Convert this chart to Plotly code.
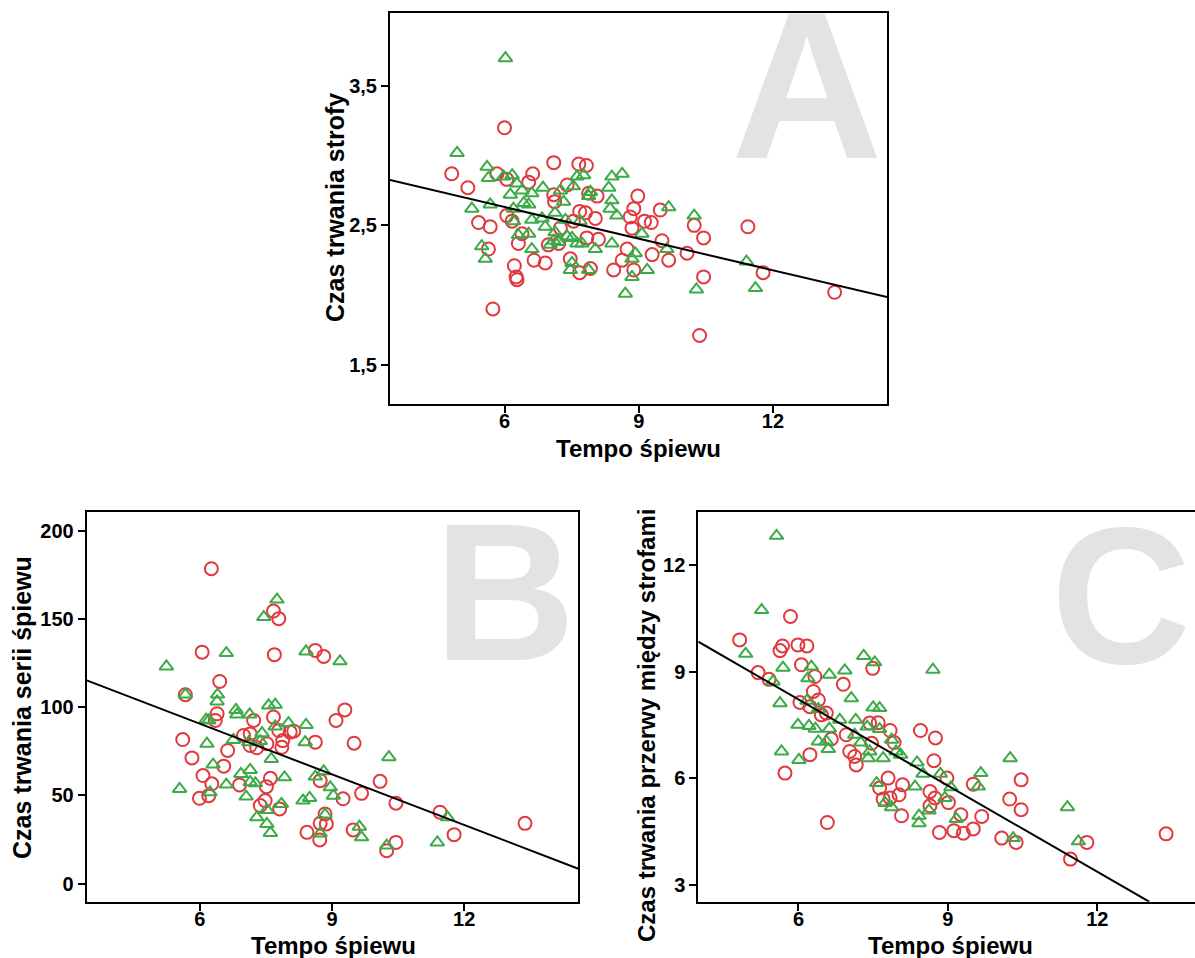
import plotly.graph_objects as go

W, H = 1195, 958

# ---------------- Panel A: Czas trwania strofy ----------------
a_red_x = [6.00, 4.82, 5.18, 5.83, 6.05, 6.63, 6.54, 7.10, 7.66, 7.83,
           7.40, 7.10, 7.12, 7.88, 8.07, 7.68, 7.81, 8.03, 5.42, 5.68,
           6.05, 6.17, 7.25, 7.54, 6.39, 6.31, 5.64, 6.98, 7.21, 7.84,
           8.10, 6.66, 6.91, 6.22, 6.26, 6.28, 7.47, 7.68, 7.92, 8.44,
           8.63, 8.74, 8.89, 8.81, 8.98, 8.89, 5.74, 8.85, 9.13, 9.28,
           9.48, 9.52, 9.30, 9.67, 10.08, 10.24, 10.45, 10.45, 11.44, 11.78,
           13.38, 10.36]
a_red_y = [3.20, 2.87, 2.77, 2.87, 2.83, 2.87, 2.81, 2.95, 2.94, 2.93,
           2.79, 2.72, 2.67, 2.73, 2.71, 2.60, 2.59, 2.55, 2.52, 2.49,
           2.57, 2.53, 2.48, 2.53, 2.44, 2.37, 2.33, 2.36, 2.37, 2.41,
           2.40, 2.25, 2.23, 2.21, 2.13, 2.11, 2.26, 2.16, 2.19, 2.18,
           2.25, 2.33, 2.62, 2.56, 2.71, 2.18, 1.90, 2.48, 2.53, 2.52,
           2.61, 2.39, 2.29, 2.25, 2.30, 2.50, 2.41, 2.13, 2.49, 2.16,
           2.02, 1.71]
a_green_x = [6.02, 4.94, 5.61, 5.64, 5.98, 6.17, 6.28, 6.13, 6.39, 6.61,
             6.86, 7.25, 7.54, 7.62, 7.77, 7.92, 7.88, 8.33, 8.40, 8.63,
             5.27, 5.68, 6.20, 6.43, 6.54, 7.32, 7.13, 6.20, 6.61, 6.84,
             6.91, 7.36, 7.69, 8.40, 8.36, 8.51, 6.31, 6.54, 7.13, 7.10,
             7.02, 7.21, 7.40, 7.51, 7.62, 7.73, 5.49, 5.57, 6.61, 8.03,
             8.40, 7.51, 7.47, 7.88, 8.70, 8.92, 8.85, 8.85, 9.67, 10.24,
             9.07, 9.63, 9.19, 10.29, 11.41, 11.61]
a_green_y = [3.70, 3.02, 2.92, 2.84, 2.85, 2.86, 2.80, 2.72, 2.75, 2.73,
             2.77, 2.75, 2.78, 2.85, 2.86, 2.74, 2.71, 2.77, 2.85, 2.87,
             2.62, 2.65, 2.62, 2.66, 2.65, 2.67, 2.59, 2.53, 2.54, 2.55,
             2.49, 2.54, 2.53, 2.68, 2.62, 2.57, 2.43, 2.44, 2.45, 2.39,
             2.36, 2.38, 2.42, 2.41, 2.37, 2.37, 2.35, 2.26, 2.33, 2.33,
             2.37, 2.23, 2.18, 2.18, 2.01, 2.30, 2.26, 2.13, 2.63, 2.57,
             2.44, 2.33, 2.18, 2.04, 2.24, 2.05]
a_fit_x = [3.44, 14.55]
a_fit_y = [2.825, 1.985]

# ---------------- Panel B: Czas trwania serii śpiewu ----------------
b_red_x = [6.26, 7.67, 7.79, 6.05, 7.69, 8.62, 8.81, 6.45, 5.67, 6.39,
           6.35, 7.22, 7.67, 5.61, 6.99, 7.14, 7.79, 8.05, 8.13, 7.88,
           7.14, 7.29, 7.52, 7.86, 8.62, 9.09, 6.63, 5.82, 6.54, 6.07,
           6.27, 6.90, 7.60, 7.51, 5.99, 6.20, 7.48, 7.37, 7.81, 8.73,
           8.84, 8.87, 8.73, 8.43, 8.72, 9.29, 9.50, 10.09, 9.67, 9.25,
           10.45, 11.45, 11.77, 13.38, 9.48, 10.45, 10.24]
b_red_y = [178.5, 154.5, 150.2, 131.2, 129.8, 132.2, 128.8, 114.6, 107.1, 96.3,
           92.5, 92.5, 94.4, 81.7, 84.0, 84.9, 86.8, 85.9, 86.4, 81.1,
           78.3, 77.0, 79.3, 77.3, 80.2, 92.5, 75.5, 71.3, 66.6, 61.3,
           56.6, 56.0, 59.7, 55.0, 48.4, 49.9, 47.1, 44.3, 42.4, 58.4,
           39.5, 33.9, 34.2, 29.1, 24.8, 98.5, 79.6, 58.0, 51.2, 48.1,
           45.6, 40.5, 27.8, 34.2, 30.5, 23.4, 18.7]
b_green_x = [7.75, 7.45, 6.60, 8.41, 9.18, 5.24, 5.67, 6.40, 6.39, 6.82,
             6.84, 7.13, 7.56, 7.71, 6.14, 6.20, 7.71, 8.01, 8.41, 7.41,
             6.76, 7.11, 7.37, 8.39, 6.16, 7.62, 6.30, 7.14, 6.93, 8.81,
             8.62, 7.92, 7.14, 7.26, 6.60, 5.54, 6.23, 7.05, 7.85, 7.52,
             7.29, 7.52, 7.60, 8.34, 8.49, 8.84, 8.73, 8.96, 9.03, 10.29,
             9.62, 9.67, 10.24, 11.62, 11.39]
b_green_y = [161.0, 151.1, 130.7, 131.6, 126.0, 123.1, 107.2, 107.2, 103.3, 98.5,
             95.9, 95.9, 101.0, 101.4, 92.9, 92.5, 89.1, 91.0, 90.0, 85.3,
             81.5, 80.2, 80.8, 80.2, 79.3, 70.7, 67.5, 64.5, 62.2, 63.7,
             60.7, 60.3, 57.5, 56.9, 56.2, 53.7, 51.8, 49.4, 45.2, 41.8,
             37.6, 33.9, 28.8, 47.1, 48.6, 39.1, 28.5, 54.6, 49.9, 71.7,
             32.3, 26.3, 21.6, 37.6, 23.4]
b_fit_x = [3.43, 14.59]
b_fit_y = [115.2, 8.5]

# ---------------- Panel C: Czas trwania przerwy między strofami ----------------
c_red_x = [5.84, 4.82, 5.68, 5.63, 5.99, 6.17, 6.06, 5.19, 5.41, 6.33,
           7.49, 6.90, 6.30, 6.40, 6.03, 6.23, 6.56, 6.46, 6.66, 6.96,
           7.43, 7.60, 7.84, 7.92, 7.47, 7.03, 7.13, 7.16, 6.23, 5.73,
           8.45, 8.75, 8.72, 7.80, 8.09, 8.02, 7.63, 7.70, 7.84, 8.64,
           8.74, 8.64, 9.01, 8.07, 8.83, 9.12, 6.58, 8.98, 9.51, 9.26,
           9.31, 9.51, 9.68, 10.08, 10.37, 10.24, 10.47, 10.47, 11.79, 11.46,
           13.38]
c_red_y = [10.55, 9.89, 9.72, 9.59, 9.75, 9.72, 9.19, 8.97, 8.78, 8.86,
           9.09, 8.64, 8.44, 8.20, 8.13, 8.01, 7.83, 7.78, 7.10, 7.22,
           7.55, 7.56, 7.34, 7.00, 6.98, 6.75, 6.61, 6.37, 6.66, 6.14,
           7.34, 7.13, 6.49, 6.00, 5.81, 5.53, 5.72, 5.41, 5.44, 5.62,
           5.44, 5.22, 5.31, 4.94, 4.47, 4.52, 4.75, 6.00, 5.83, 4.97,
           4.45, 4.57, 4.92, 4.31, 4.19, 5.41, 5.95, 5.11, 4.19, 3.72,
           4.43]
c_green_x = [5.56, 5.26, 4.94, 5.69, 6.26, 6.19, 6.62, 6.93, 7.31, 7.53,
             8.70, 5.49, 5.63, 6.17, 6.40, 7.06, 7.50, 7.63, 5.99, 6.21,
             6.34, 6.62, 6.83, 7.15, 7.38, 7.63, 7.13, 6.40, 6.56, 6.60,
             5.66, 6.01, 7.25, 7.43, 7.40, 7.70, 7.87, 7.96, 8.05, 8.38,
             8.50, 8.85, 7.57, 8.34, 7.74, 7.87, 8.42, 8.42, 8.62, 9.06,
             8.94, 10.25, 9.66, 9.61, 9.17, 10.31, 11.40, 11.62]
c_green_y = [12.82, 10.73, 9.50, 9.11, 9.14, 8.81, 8.91, 9.03, 9.44, 9.26,
             9.05, 8.72, 8.11, 8.18, 7.94, 8.25, 7.99, 7.97, 7.50, 7.47,
             7.39, 7.39, 7.64, 7.64, 7.45, 7.38, 7.22, 7.03, 7.03, 6.82,
             6.75, 6.51, 7.00, 6.75, 6.56, 6.56, 7.08, 6.75, 6.66, 6.44,
             6.12, 6.12, 5.86, 5.76, 5.30, 5.18, 4.94, 4.73, 5.09, 5.74,
             5.44, 6.56, 6.14, 5.76, 4.85, 4.31, 5.18, 4.22]
c_fit_x = [3.99, 13.04]
c_fit_y = [9.84, 2.52]

# ---------------- tick labels ----------------
a_ytick_vals = [1.5, 2.5, 3.5]
a_ytick_text = ["1,5", "2,5", "3,5"]
b_ytick_vals = [0, 50, 100, 150, 200]
b_ytick_text = ["0", "50", "100", "150", "200"]
c_ytick_vals = [3, 6, 9, 12]
c_ytick_text = ["3", "6", "9", "12"]
x_tick_vals = [6, 9, 12]
x_tick_text = ["6", "9", "12"]

x_title = "Tempo śpiewu"
a_y_title = "Czas trwania strofy"
b_y_title = "Czas trwania serii śpiewu"
c_y_title = "Czas trwania przerwy między strofami"

RED = "#e0393e"
GREEN = "#3aab46"
FONT = "Liberation Sans, Arial, sans-serif"


def fx(px):
    return px / W


def fy(py):
    return 1 - py / H


fig = go.Figure()

panels = [
    ("x", "y", a_red_x, a_red_y, a_green_x, a_green_y, a_fit_x, a_fit_y),
    ("x2", "y2", b_red_x, b_red_y, b_green_x, b_green_y, b_fit_x, b_fit_y),
    ("x3", "y3", c_red_x, c_red_y, c_green_x, c_green_y, c_fit_x, c_fit_y),
]
for xa, ya, rx, ry, gx, gy, lx, ly in panels:
    fig.add_trace(go.Scatter(x=rx, y=ry, xaxis=xa, yaxis=ya, mode="markers",
                             marker=dict(symbol="circle-open", size=13, color=RED,
                                         line=dict(width=2, color=RED)),
                             showlegend=False, hoverinfo="skip"))
    fig.add_trace(go.Scatter(x=gx, y=gy, xaxis=xa, yaxis=ya, mode="markers",
                             marker=dict(symbol="triangle-up-open", size=12, color=GREEN,
                                         line=dict(width=2, color=GREEN)),
                             showlegend=False, hoverinfo="skip"))
    fig.add_trace(go.Scatter(x=lx, y=ly, xaxis=xa, yaxis=ya, mode="lines",
                             line=dict(color="black", width=2),
                             showlegend=False, hoverinfo="skip"))

tickfont = dict(family=FONT, size=20, color="black", weight="bold")
common = dict(showgrid=False, zeroline=False, showline=True, linecolor="black",
              linewidth=2, ticks="outside", ticklen=7, tickwidth=1.5,
              tickcolor="black", tickfont=tickfont)
xcommon = dict(common, ticklabelstandoff=-9)

fig.update_layout(
    width=W, height=H, margin=dict(l=0, r=0, t=0, b=0),
    paper_bgcolor="white", plot_bgcolor="white",
    xaxis=dict(domain=[fx(390), fx(887)], range=[3.44, 14.55], anchor="y",
               tickvals=x_tick_vals, ticktext=x_tick_text, mirror=True, **xcommon),
    yaxis=dict(domain=[fy(404), fy(12.7)], range=[1.218, 4.026], anchor="x",
               tickvals=a_ytick_vals, ticktext=a_ytick_text, mirror=True, **common),
    xaxis2=dict(domain=[fx(86.7), fx(578.3)], range=[3.43, 14.59], anchor="y2",
                tickvals=x_tick_vals, ticktext=x_tick_text, mirror=True, **xcommon),
    yaxis2=dict(domain=[fy(901.7), fy(511.7)], range=[-10.2, 210.8], anchor="x2",
                tickvals=b_ytick_vals, ticktext=b_ytick_text, mirror=True, **common),
    xaxis3=dict(domain=[fx(698.3), 1.0], range=[3.99, 13.96], anchor="y3",
                tickvals=x_tick_vals, ticktext=x_tick_text, mirror=True, **xcommon),
    yaxis3=dict(domain=[fy(901.7), fy(511.7)], range=[2.52, 13.5], anchor="x3",
                tickvals=c_ytick_vals, ticktext=c_ytick_text, mirror=False, **common),
)

title_font = dict(family=FONT, size=25, color="black", weight="bold")
xtitle_font = dict(family=FONT, size=24, color="black", weight="bold")
annotations = [
    # watermark letters
    dict(text="A", x=fx(807), y=fy(86), font=dict(family=FONT, size=210, color="#e3e3e3", weight="bold")),
    dict(text="B", x=fx(505), y=fy(592), font=dict(family=FONT, size=196, color="#e3e3e3", weight="bold")),
    dict(text="C", x=fx(1121), y=fy(595), font=dict(family=FONT, size=194, color="#e3e3e3", weight="bold")),
    # axis titles
    dict(text=x_title, x=fx(638.5), y=fy(448), font=xtitle_font),
    dict(text=x_title, x=fx(333), y=fy(945), font=xtitle_font),
    dict(text=x_title, x=fx(950), y=fy(945), font=xtitle_font),
    dict(text=a_y_title, x=fx(335), y=fy(208), textangle=-90, font=title_font),
    dict(text=b_y_title, x=fx(22), y=fy(708), textangle=-90, font=title_font),
    dict(text=c_y_title, x=fx(646), y=fy(726), textangle=-90,
         font=dict(family=FONT, size=24, color="black", weight="bold")),
]
for a in annotations:
    a.update(xref="paper", yref="paper", xanchor="center", yanchor="middle", showarrow=False)
fig.update_layout(annotations=annotations)

fig.write_html("out.html")
